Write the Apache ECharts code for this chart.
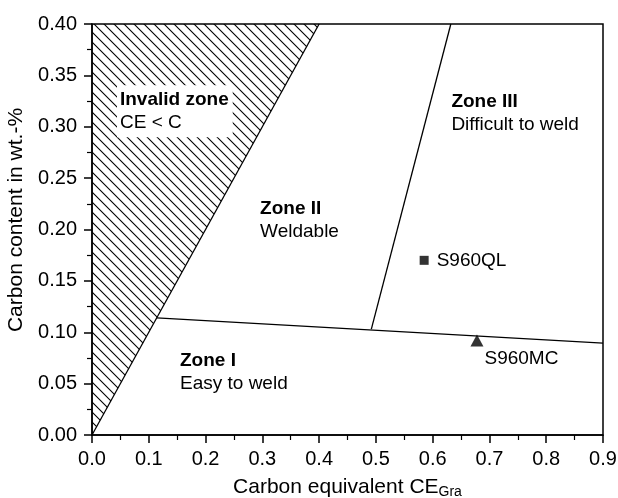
<!DOCTYPE html>
<html><head><meta charset="utf-8">
<script src="https://cdn.jsdelivr.net/npm/echarts@6/dist/echarts.min.js"></script>
<style>html,body{margin:0;padding:0;background:#fff}#c{width:618px;height:498px}</style>
</head><body><div id="c"></div>
<script>
// ---- data ----
const xTickLabels = ['0.0','0.1','0.2','0.3','0.4','0.5','0.6','0.7','0.8','0.9'];
const yTickLabels = ['0.00','0.05','0.10','0.15','0.20','0.25','0.30','0.35','0.40'];
const invalidZone = [[0,0],[0.4,0.4],[0,0.4]];
const lineCEequalsC = [[0,0],[0.4,0.4]];
const lineZone1 = [[0.114,0.114],[0.9,0.0895]];
const lineZone23 = [[0.492,0.103],[0.632,0.40]];
const steelNames = ['S960QL','S960MC'];
const steelCE = [0.585, 0.678];
const steelC = [0.170, 0.092];
const zoneTitles = ['Invalid zone','Zone I','Zone II','Zone III'];
const zoneTexts = ['CE < C','Easy to weld','Weldable','Difficult to weld'];
const zoneCE = [0.044, 0.155, 0.296, 0.633];
const zoneC = [0.315, 0.061, 0.209, 0.313];

// ---- rendering ----
const FONT = '"Liberation Sans", Arial, Helvetica, sans-serif';
function hatch(s){
  const c = document.createElement('canvas'); c.width = s; c.height = s;
  const g = c.getContext('2d');
  g.strokeStyle = '#000'; g.lineWidth = 1.1; g.beginPath();
  for (let k = -1; k <= 1; k++) { g.moveTo(-s, -s + k*s); g.lineTo(2*s, 2*s + k*s); }
  g.stroke();
  return c;
}
const pattern = hatch(10);
const chart = echarts.init(document.getElementById('c'), null, {renderer:'canvas'});
const lineStyle = {color:'#000', width:1.3};
function boundary(data){
  return {type:'line', data:data, symbol:'none', lineStyle:lineStyle, z:3, silent:true, animation:false};
}
const txt = {fontFamily:FONT, color:'#000', opacity:1, textBorderWidth:0};
const option = {
  animation:false,
  backgroundColor:'#fff',
  textStyle:{fontFamily:FONT, color:'#000'},
  grid:{left:92, right:15, top:24, bottom:63, containLabel:false, outerBoundsMode:'none',
        show:true, borderColor:'#000', borderWidth:1.5, backgroundColor:'transparent'},
  xAxis:{type:'value', min:0, max:0.9, interval:0.1,
    name:'{a|Carbon equivalent CE}{s|Gra}', nameLocation:'middle', nameGap:40,
    nameTextStyle:{rich:{a:{fontSize:21, fontFamily:FONT, color:'#000', lineHeight:24},
                         s:{fontSize:14, fontFamily:FONT, color:'#000', padding:[10,0,0,0]}}},
    axisLine:{show:true, onZero:false, lineStyle:{color:'#000', width:1.5}},
    axisTick:{show:true, inside:false, length:8, lineStyle:{color:'#000', width:1.5}},
    minorTick:{show:true, splitNumber:2, length:5, lineStyle:{color:'#000', width:1.2}},
    splitLine:{show:false},
    axisLabel:{fontSize:20, fontFamily:FONT, color:'#000', margin:14,
      formatter:v=>xTickLabels[Math.round(v/0.1)]}
  },
  yAxis:{type:'value', min:0, max:0.4, interval:0.05,
    name:'Carbon content in wt.-%', nameLocation:'middle', nameGap:61,
    nameTextStyle:{fontSize:21, fontFamily:FONT, color:'#000', padding:[0,0,0,19]},
    axisLine:{show:true, onZero:false, lineStyle:{color:'#000', width:1.5}},
    axisTick:{show:true, inside:false, length:8, lineStyle:{color:'#000', width:1.5}},
    minorTick:{show:true, splitNumber:2, length:5, lineStyle:{color:'#000', width:1.2}},
    splitLine:{show:false},
    axisLabel:{fontSize:20, fontFamily:FONT, color:'#000', margin:15,
      formatter:v=>yTickLabels[Math.round(v/0.05)]}
  },
  series:[
    {type:'custom', silent:true, z:1, data:[[0,0]],
      renderItem:(params, api)=>({type:'polygon',
        shape:{points:invalidZone.map(p=>api.coord(p))},
        style:{fill:{image:pattern, repeat:'repeat'}, stroke:null}})},
    boundary(lineCEequalsC),
    boundary(lineZone1),
    boundary(lineZone23),
    {type:'scatter', z:5, silent:true,
      data:steelNames.map((n,i)=>({name:n, value:[steelCE[i], steelC[i]],
        symbol: i===0 ? 'rect' : 'triangle',
        symbolSize: i===0 ? [9,9] : [13,12],
        label: Object.assign({show:true, formatter:'{b}', fontSize:19}, txt,
          i===0 ? {position:'right', distance:8}
                : {position:[14,24], align:'left', verticalAlign:'middle'})})),
      itemStyle:{color:'#000'},
      label:Object.assign({formatter:'{b}', fontSize:19}, txt)},
    {type:'scatter', z:6, silent:true, symbolSize:0,
      data:zoneTitles.map((t,i)=>({name:t, value:[zoneCE[i], zoneC[i]],
        label: i===0 ? {backgroundColor:'#fff', padding:[3,4,3,3]} : {}})),
      label:Object.assign({show:true, position:'right', distance:0, align:'left', verticalAlign:'middle',
        formatter:p=>'{b|'+zoneTitles[p.dataIndex]+'}\n{n|'+zoneTexts[p.dataIndex]+'}',
        rich:{b:Object.assign({fontSize:19, fontWeight:'bold', lineHeight:23}, txt),
              n:Object.assign({fontSize:19, lineHeight:23}, txt)}}, txt)}
  ]
};
chart.setOption(option);
</script></body></html>
